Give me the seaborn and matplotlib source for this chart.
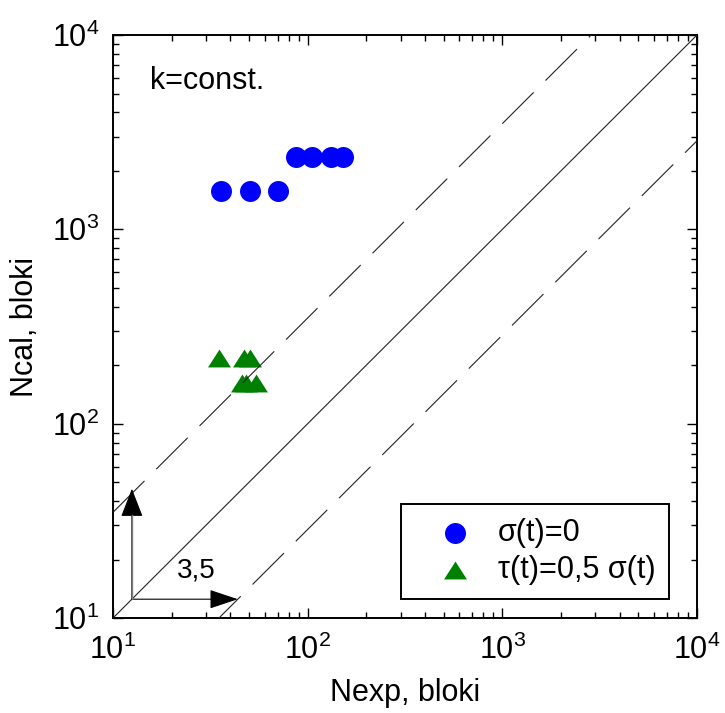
import numpy as np
import pandas as pd
import seaborn as sns
import matplotlib
matplotlib.use("Agg")
import matplotlib.pyplot as plt

# data (log-log axes)
circle_x = [36, 50.5, 70, 87.5, 105, 132, 151]
circle_y = [1580, 1580, 1580, 2360, 2360, 2360, 2360]
triangle_x = [35, 47, 50.5, 45.8, 48, 54.3]
triangle_y = [218, 218, 218, 162, 162, 162]
circle_label = "σ(t)=0"
triangle_label = "τ(t)=0,5 σ(t)"
scatter_band = 3.5
axis_lim = [10, 10000]

sns.set_style("ticks")
plt.rcParams["font.family"] = ["Liberation Sans", "DejaVu Sans"]
plt.rcParams["mathtext.fontset"] = "custom"
plt.rcParams["mathtext.rm"] = "Liberation Sans"
plt.rcParams["mathtext.default"] = "regular"
plt.rcParams["lines.scale_dashes"] = False
plt.rcParams["text.color"] = "black"
plt.rcParams["axes.labelcolor"] = "black"

df_c = pd.DataFrame({"Nexp": circle_x, "Ncal": circle_y})
df_t = pd.DataFrame({"Nexp": triangle_x, "Ncal": triangle_y})

fig = plt.figure(figsize=(7.25, 7.13), dpi=100)
ax = fig.add_axes([0.1559, 0.1332, 0.8055, 0.8177])

# slightly flattened triangle marker
tri = [(-1, -0.78), (1, -0.78), (0, 0.78), (-1, -0.78)]

sns.scatterplot(data=df_c, x="Nexp", y="Ncal", ax=ax, marker="o", color="blue",
                s=228, linewidth=0, label=circle_label, zorder=2)
sns.scatterplot(data=df_t, x="Nexp", y="Ncal", ax=ax, marker=tri, color="green",
                s=272, linewidth=0, label=triangle_label, zorder=2)

ax.set_xscale("log")
ax.set_yscale("log")
ax.set_xlim(axis_lim)
ax.set_ylim(axis_lim)

# y = x and scatter band lines
xx = np.array(axis_lim, dtype=float)
ax.plot(xx, xx, color="#222222", lw=0.8, zorder=3)
ax.plot(xx, xx * scatter_band, color="#222222", lw=0.8, dashes=(32, 12), zorder=3)
ax.plot(xx, xx / scatter_band, color="#222222", lw=0.8, dashes=(32, 12), zorder=3)

# arrows showing the band width
x0 = 12.5
ax.annotate("", xy=(x0 * scatter_band, x0), xytext=(x0, x0),
            arrowprops=dict(arrowstyle="-|>,head_length=0.9,head_width=0.3",
                            mutation_scale=20, color="black", lw=0.8,
                            shrinkA=0, shrinkB=0), zorder=4)
ax.annotate("", xy=(x0, x0 * 3.7), xytext=(x0, x0),
            arrowprops=dict(arrowstyle="-|>,head_length=0.9,head_width=0.35",
                            mutation_scale=20, color="black", lw=0.8,
                            shrinkA=0, shrinkB=0), zorder=4)
# grey shaft of the vertical arrow
ax.plot([x0, x0], [x0, 34], color="#808080", lw=1.0, zorder=5)
ax.text(21.2, 16.2, "3,5", fontsize=20, ha="left", va="baseline")
ax.text(15.5, 5270, "k=const.", fontsize=22, ha="left", va="baseline")

ax.set_xlabel("Nexp, bloki", fontsize=22, labelpad=9)
ax.set_ylabel("Ncal, bloki", fontsize=22)
ax.yaxis.set_label_coords(-0.125, 0.5)

ax.tick_params(which="both", direction="in", top=True, right=True,
               labelsize=22, pad=12, width=1, colors="black")
ax.tick_params(axis="y", pad=10)
ax.tick_params(which="major", length=7)
ax.tick_params(which="minor", length=4)
for sp in ax.spines.values():
    sp.set_linewidth(1.4)
    sp.set_color("black")

leg = ax.legend(loc="lower right", bbox_to_anchor=(0.952, 0.0326), borderaxespad=0,
                fontsize=22, frameon=True, fancybox=False, edgecolor="black",
                framealpha=1, handlelength=2.6, handletextpad=0.1,
                borderpad=0.45, labelspacing=0.25)
leg.get_frame().set_linewidth(1.4)

fig.savefig("out.png", dpi=100)
